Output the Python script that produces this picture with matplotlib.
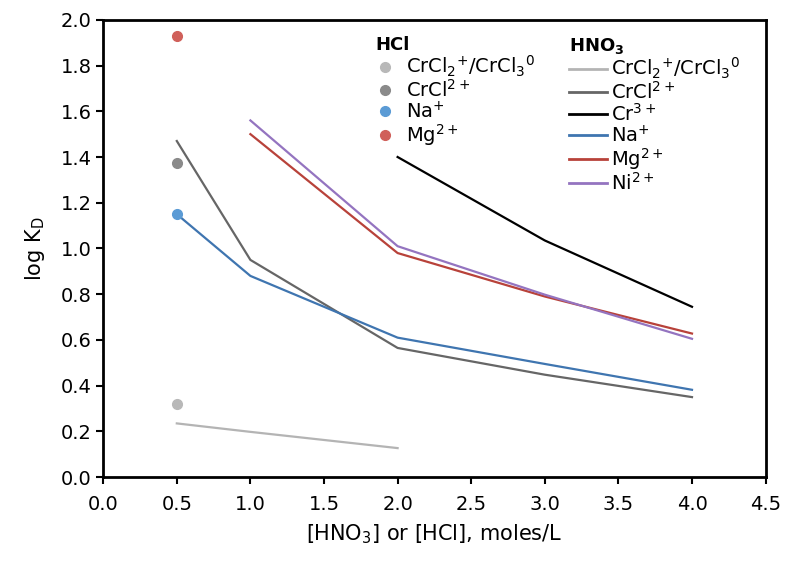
import matplotlib
matplotlib.use("Agg")
import matplotlib.pyplot as plt
from matplotlib.lines import Line2D

# 데이터 (HCl: 0.5 M 단일 측정)
hcl_x = 0.5
hcl_labels = [r'CrCl$_2$$^{+}$/CrCl$_3$$^{0}$', r'CrCl$^{2+}$', r'Na$^{+}$', r'Mg$^{2+}$']
hcl_vals = [0.32, 1.375, 1.15, 1.93]
hcl_colors = ['#b8b8b8', '#8a8a8a', '#5b9bd5', '#d0605a']

# HNO3 시리즈
hno3_labels = [r'CrCl$_2$$^{+}$/CrCl$_3$$^{0}$', r'CrCl$^{2+}$', r'Cr$^{3+}$',
               r'Na$^{+}$', r'Mg$^{2+}$', r'Ni$^{2+}$']
crcl2_x = [0.5, 1.0, 2.0]
crcl2_y = [0.235, 0.198, 0.127]
crcl_x = [0.5, 1.0, 2.0, 3.0, 4.0]
crcl_y = [1.47, 0.95, 0.565, 0.448, 0.350]
cr_x = [2.0, 3.0, 4.0]
cr_y = [1.40, 1.035, 0.745]
na_x = [0.5, 1.0, 2.0, 3.0, 4.0]
na_y = [1.15, 0.88, 0.61, 0.495, 0.382]
mg_x = [1.0, 2.0, 3.0, 4.0]
mg_y = [1.50, 0.98, 0.79, 0.628]
ni_x = [1.0, 2.0, 3.0, 4.0]
ni_y = [1.56, 1.01, 0.798, 0.605]
hno3_colors = ['#b4b4b4', '#666666', '#000000', '#3f75b0', '#b8423a', '#9474c0']

plt.rcParams['font.family'] = ['DejaVu Sans']
plt.rcParams['mathtext.default'] = 'regular'

fig = plt.figure(figsize=(8, 5.66), dpi=100)
ax = fig.add_axes([0.129, 0.157, 0.828, 0.808])

series = [(crcl2_x, crcl2_y), (crcl_x, crcl_y), (cr_x, cr_y),
          (na_x, na_y), (mg_x, mg_y), (ni_x, ni_y)]
for (xs, ys), c in zip(series, hno3_colors):
    ax.plot(xs, ys, color=c, lw=1.6)

for v, c in zip(hcl_vals, hcl_colors):
    ax.plot([hcl_x], [v], 'o', color=c, ms=7, zorder=3)

ax.set_xlim(0, 4.5)
ax.set_ylim(0, 2.0)
ax.set_xticks([i * 0.5 for i in range(10)])
ax.set_yticks([i * 0.2 for i in range(11)])
ax.xaxis.set_major_formatter(plt.FormatStrFormatter('%.1f'))
ax.yaxis.set_major_formatter(plt.FormatStrFormatter('%.1f'))
ax.tick_params(direction='out', length=5, width=1.5, labelsize=14)
ax.tick_params(axis='x', pad=8)
for s in ax.spines.values():
    s.set_linewidth(2)
ax.set_xlabel(r'[HNO$_3$] or [HCl], moles/L', fontsize=15, labelpad=6)
ax.set_ylabel(r'log K$_D$', fontsize=15, labelpad=10)

# 범례
hcl_handles = [Line2D([], [], ls='none', marker='o', ms=7, color=c) for c in hcl_colors]
leg1 = ax.legend(hcl_handles, hcl_labels, loc='upper left', bbox_to_anchor=(0.39, 0.995),
                 frameon=False, fontsize=14, title='HCl', handlelength=1.0,
                 handletextpad=0.6, labelspacing=0.0, borderpad=0.2,
                 title_fontproperties={'weight': 'bold', 'size': 13})
leg1._legend_box.align = 'left'
ax.add_artist(leg1)

hno3_handles = [Line2D([], [], color=c, lw=2) for c in hno3_colors]
leg2 = ax.legend(hno3_handles, hno3_labels, loc='upper left', bbox_to_anchor=(0.682, 0.995),
                 frameon=False, fontsize=14, title=r'HNO$_3$', handlelength=2.0,
                 handletextpad=0.2, labelspacing=0.0, borderpad=0.2,
                 title_fontproperties={'weight': 'bold', 'size': 13})
leg2._legend_box.align = 'left'

plt.savefig('out.png', dpi=100)
